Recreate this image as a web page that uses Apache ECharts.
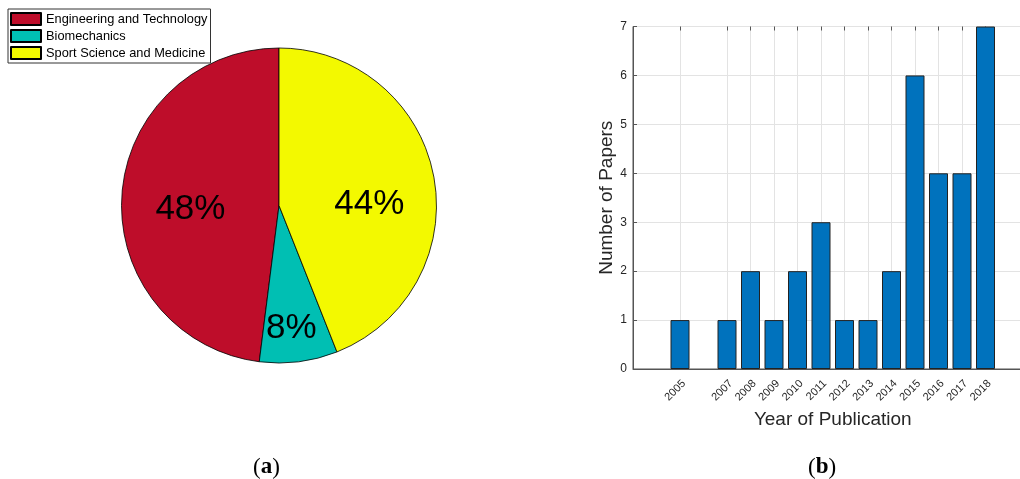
<!DOCTYPE html>
<html>
<head>
<meta charset="utf-8">
<script src="https://cdn.jsdelivr.net/npm/echarts@6/dist/echarts.min.js"></script>
<style>
html,body{margin:0;padding:0;background:#fff;}
#chart{width:1020px;height:479px;}
</style>
</head>
<body>
<div id="chart"></div>
<script>
// ---- data ----
var fieldNames = ['Engineering and Technology', 'Biomechanics', 'Sport Science and Medicine'];
var fieldCounts = [12, 2, 11];
var fieldColors = ['#BE0D2A', '#00BFB3', '#F3F900'];

var years = ['2005', '2007', '2008', '2009', '2010', '2011', '2012', '2013', '2014', '2015', '2016', '2017', '2018'];
var papers = [1, 1, 2, 1, 2, 3, 1, 1, 2, 6, 4, 4, 7];
var axisYears = ['2003', '2004', '2005', '2006', '2007', '2008', '2009', '2010', '2011', '2012', '2013', '2014', '2015', '2016', '2017', '2018', '2019', '2020'];
var yTicks = [0, 1, 2, 3, 4, 5, 6, 7];

// label offsets (style only)
var pieLabelShift = [[-7, 9], [2, 42], [10, 14]];

var barData = axisYears.map(function (y) {
  var i = years.indexOf(y);
  return i >= 0 ? papers[i] : null;
});
function isTickYear(idx, val) { return years.indexOf(axisYears[idx]) >= 0; }

var font = 'Liberation Sans, Arial, Helvetica, sans-serif';
var chart = echarts.init(document.getElementById('chart'));
chart.setOption({
  animation: false,
  backgroundColor: '#fff',
  legend: {
    orient: 'vertical',
    left: 8, top: 9,
    padding: [3, 3, 3, 2],
    itemWidth: 30, itemHeight: 12, itemGap: 3,
    backgroundColor: '#fff',
    borderColor: '#333', borderWidth: 1,
    icon: 'rect',
    textStyle: { fontFamily: font, fontSize: 12.8, color: '#000' },
    data: fieldNames
  },
  grid: {
    left: 633, right: -12.5, top: 26.5, bottom: 110,
    outerBoundsMode: 'none',
    containLabel: false,
    show: true, borderColor: '#555', borderWidth: 1
  },
  xAxis: [{
    type: 'category',
    data: axisYears,
    boundaryGap: false,
    position: 'bottom',
    name: 'Year of Publication',
    nameLocation: 'middle',
    nameGap: 41,
    nameTextStyle: { fontFamily: font, fontSize: 19, color: '#262626' },
    axisLine: { lineStyle: { color: '#555', width: 1 } },
    axisTick: { inside: true, length: 4, interval: isTickYear, lineStyle: { color: '#555' } },
    axisLabel: { rotate: 45, interval: isTickYear, margin: 9, verticalAlign: 'top', fontFamily: font, fontSize: 11, color: '#262626' },
    splitLine: { show: true, interval: isTickYear, lineStyle: { color: '#e3e3e3', width: 1 } }
  }, {
    type: 'category',
    data: axisYears,
    boundaryGap: false,
    position: 'top',
    axisLine: { show: false },
    axisTick: { inside: true, length: 4, interval: isTickYear, lineStyle: { color: '#555' } },
    axisLabel: { show: false },
    splitLine: { show: false }
  }],
  yAxis: {
    type: 'value',
    min: yTicks[0], max: yTicks[yTicks.length - 1], interval: 1,
    name: 'Number of Papers',
    nameLocation: 'middle',
    nameGap: 15,
    nameTextStyle: { fontFamily: font, fontSize: 19, color: '#262626' },
    axisLine: { show: true, lineStyle: { color: '#555', width: 1 } },
    axisTick: { show: true, inside: true, length: 4, lineStyle: { color: '#555' } },
    axisLabel: { margin: 6, fontFamily: font, fontSize: 12, color: '#262626' },
    splitLine: { show: true, lineStyle: { color: '#e3e3e3', width: 1 } }
  },
  series: [{
    type: 'pie',
    center: [279, 205.5],
    radius: 157.5,
    startAngle: 90,
    clockwise: false,
    itemStyle: { borderColor: '#000', borderWidth: 0.8 },
    label: {
      show: true,
      position: 'inside',
      fontFamily: font,
      fontSize: 35,
      color: '#000',
      formatter: function (p) { return Math.round(p.percent) + '%'; }
    },
    labelLayout: function (p) {
      var s = pieLabelShift[p.dataIndex];
      return { dx: s[0], dy: s[1] };
    },
    emphasis: { disabled: true },
    data: fieldNames.map(function (n, i) {
      return { name: n, value: fieldCounts[i], itemStyle: { color: fieldColors[i] } };
    })
  }, {
    type: 'bar',
    xAxisIndex: 0,
    data: barData,
    barWidth: 19,
    itemStyle: { color: '#0072BD', borderColor: '#222', borderWidth: 1 }
  }],
  graphic: [{
    type: 'text',
    left: 253, top: 456,
    style: {
      text: '({b|a})',
      font: '23px "Liberation Serif", "Times New Roman", serif',
      fill: '#000',
      rich: { b: { fontWeight: 'bold', fontSize: 23, fontFamily: 'Liberation Serif' } }
    }
  }, {
    type: 'text',
    left: 808, top: 456,
    style: {
      text: '({b|b})',
      font: '23px "Liberation Serif", "Times New Roman", serif',
      fill: '#000',
      rich: { b: { fontWeight: 'bold', fontSize: 23, fontFamily: 'Liberation Serif' } }
    }
  }]
});
</script>
</body>
</html>
